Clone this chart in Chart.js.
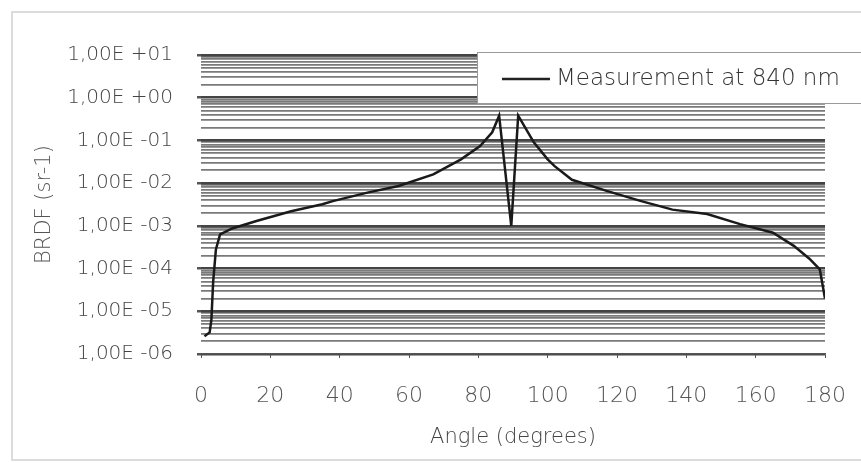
<!DOCTYPE html>
<html>
<head>
<meta charset="utf-8">
<script src="https://cdn.jsdelivr.net/npm/chart.js@4"></script>
<style>
  html, body { margin: 0; padding: 0; background: #fff; }
  #wrap { position: relative; width: 861px; height: 463px; }
</style>
</head>
<body>
<div id="wrap"><canvas id="brdfChart"></canvas></div>
<script>
// 角度 (degrees)
var angles = [1, 2.5, 3, 3.5, 4.3, 5.5, 9, 16, 26, 35, 38, 48, 57, 67, 75, 80.5, 84, 86,
  89.5, 91.5, 96, 100, 102, 107, 117, 127, 136, 146, 155.5, 165, 171, 175.5, 178.5, 180];
// BRDF (sr-1)
var brdfValues = [2.6e-6, 3.2e-6, 6.4e-6, 4.8e-5, 2.8e-4, 6.3e-4, 8.7e-4, 1.3e-3, 2.2e-3, 3.2e-3,
  3.8e-3, 6.0e-3, 8.6e-3, 1.6e-2, 3.6e-2, 7.4e-2, 0.155, 0.38,
  1.0e-3, 0.38, 0.09, 0.036, 0.025, 0.012, 6.6e-3, 3.8e-3, 2.4e-3, 1.9e-3, 1.1e-3, 6.9e-4,
  3.4e-4, 1.7e-4, 9.6e-5, 2.0e-5];
var seriesLabel = "Measurement at 840 nm";
var xTicks = [0, 20, 40, 60, 80, 100, 120, 140, 160, 180];
var yMajor = [1e-6, 1e-5, 1e-4, 1e-3, 1e-2, 1e-1, 1e0, 1e1];
var yLabels = ["1,00E -06", "1,00E -05", "1,00E -04", "1,00E -03", "1,00E -02", "1,00E -01", "1,00E +00", "1,00E +01"];

var FONT = "'DejaVu Sans', sans-serif";

// 対数の補助目盛り (1..9 × 10^n)
var yGridValues = [];
yMajor.forEach(function (m, i) {
  if (i === yMajor.length - 1) { yGridValues.push(m); return; }
  for (var k = 1; k <= 9; k++) yGridValues.push(k * m);
});

function isMajor(v) {
  var l = Math.log10(v);
  return Math.abs(l - Math.round(l)) < 1e-6;
}

var points = angles.map(function (a, i) { return { x: a, y: brdfValues[i] }; });

// 枠と凡例
var framePlugin = {
  id: "frame",
  beforeDraw: function (chart) {
    var ctx = chart.ctx;
    ctx.save();
    ctx.strokeStyle = "#dcdcdc";
    ctx.lineWidth = 2;
    ctx.strokeRect(12, 12, 880, 448);
    ctx.restore();
  },
  afterDraw: function (chart) {
    var ctx = chart.ctx;
    ctx.save();
    ctx.fillStyle = "#fff";
    ctx.fillRect(477, 52, 390, 51);
    ctx.strokeStyle = "#999";
    ctx.lineWidth = 1;
    ctx.strokeRect(477.5, 52.5, 390, 51);
    ctx.strokeStyle = "#222";
    ctx.lineWidth = 2.5;
    ctx.beginPath();
    ctx.moveTo(502, 79);
    ctx.lineTo(550, 79);
    ctx.stroke();
    ctx.fillStyle = "#333";
    ctx.font = "300 23px " + FONT;
    ctx.textBaseline = "middle";
    ctx.fillText(chart.data.datasets[0].label, 556, 79);
    ctx.restore();
  },
};

var brdfConfig = {
  type: "line",
  data: {
    datasets: [
      {
        label: seriesLabel,
        data: points,
        borderColor: "#1a1a1a",
        borderWidth: 2.5,
        pointRadius: 0,
        tension: 0,
        fill: false,
      },
    ],
  },
  options: {
    animation: false,
    responsive: true,
    maintainAspectRatio: false,
    layout: {
      padding: { left: 12, right: 36, top: 55, bottom: 9 },
    },
    plugins: {
      legend: { display: false },
      tooltip: { enabled: false },
    },
    scales: {
      x: {
        type: "linear",
        min: 0,
        max: 180,
        afterBuildTicks: function (scale) {
          scale.ticks = xTicks.map(function (v) { return { value: v }; });
        },
        afterFit: function (scale) {
          scale.height = 100;
          scale.paddingLeft = 0;
          scale.paddingRight = 0;
        },
        border: { display: true, color: "#555", width: 1.5 },
        grid: { display: true, drawOnChartArea: false, drawTicks: true, tickLength: 4, color: "#555" },
        ticks: {
          color: "#555",
          font: { family: FONT, size: 22, weight: "300" },
          padding: 25,
          maxRotation: 0,
        },
        title: {
          display: true,
          text: "Angle (degrees)",
          color: "#444",
          font: { family: FONT, size: 21, weight: "300" },
          padding: { top: 0, bottom: 4 },
        },
      },
      y: {
        type: "logarithmic",
        min: 1e-6,
        max: 1e1,
        afterBuildTicks: function (scale) {
          scale.ticks = yGridValues.map(function (v) { return { value: v, major: isMajor(v) }; });
        },
        afterFit: function (scale) {
          scale.width = 189;
          scale.paddingTop = 0;
          scale.paddingBottom = 0;
        },
        border: { display: false },
        grid: {
          color: function (c) { return c.tick && isMajor(c.tick.value) ? "#444" : "#7a7a7a"; },
          lineWidth: function (c) { return c.tick && isMajor(c.tick.value) ? 2.5 : 1.8; },
          tickColor: function (c) { return c.tick && isMajor(c.tick.value) ? "#555" : "rgba(0,0,0,0)"; },
          tickLength: 4,
        },
        ticks: {
          color: "#444",
          autoSkip: false,
          font: { family: FONT, size: 20, weight: "300" },
          padding: 24,
          callback: function (value) {
            var i = yMajor.findIndex(function (m) { return Math.abs(Math.log10(m) - Math.log10(value)) < 1e-6; });
            return i >= 0 ? yLabels[i] : "";
          },
        },
        title: {
          display: true,
          text: "BRDF (sr-1)",
          color: "#555",
          font: { family: FONT, size: 21, weight: "300" },
          padding: { top: 20, bottom: 0 },
        },
      },
    },
  },
  plugins: [framePlugin],
};

var brdfChart = new Chart(document.getElementById("brdfChart"), brdfConfig);
</script>
</body>
</html>
